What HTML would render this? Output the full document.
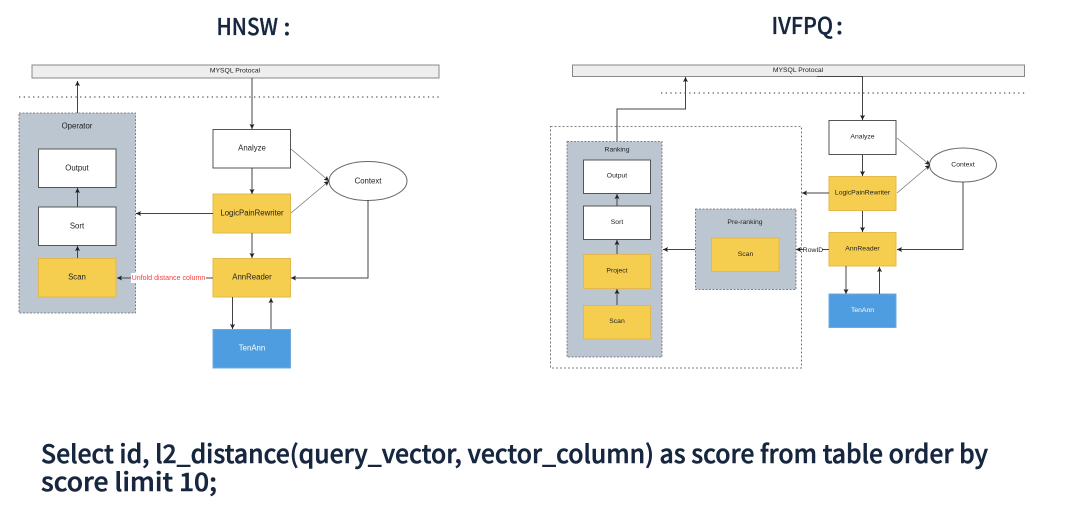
<!DOCTYPE html>
<html><head><meta charset="utf-8"><style>
html,body{margin:0;padding:0;background:#fff;width:1080px;height:508px;overflow:hidden}
svg{display:block}
.d{font-family:"Liberation Sans",sans-serif;font-size:7.800px;fill:#222;text-anchor:middle;dominant-baseline:central}
.s{font-size:6.800px}
.h{font-family:"Noto Sans CJK SC","Liberation Sans",sans-serif;font-weight:500;fill:#16263f;stroke:#16263f}
.w{fill:#fff;stroke:#555;stroke-width:1}
.y{fill:#f6ce4f;stroke:#e3b84c;stroke-width:1}
.b{fill:#4d9de0;stroke:#6fa9dc;stroke-width:1}
.g{fill:#bcc6d0;stroke:#667;stroke-width:.8;stroke-dasharray:2 1.500}
.l{fill:none;stroke:#444;stroke-width:1}
.t{fill:none;stroke:#777;stroke-width:.8}
</style></head><body>
<svg width="1080" height="508" viewBox="0 0 1080 508" xmlns="http://www.w3.org/2000/svg">
<defs><marker id="a" markerWidth="6" markerHeight="6" refX="5" refY="2.500" orient="auto" markerUnits="userSpaceOnUse"><path d="M0 0L5 2.500L0 5L1 2.500z" fill="#222"/></marker></defs>

<text class="h" x="216.500" y="35" font-size="23" stroke-width=".35" textLength="61.500" lengthAdjust="spacingAndGlyphs">HNSW</text>
<text class="h" x="283.500" y="35" font-size="23" stroke-width=".35">:</text>
<text class="h" x="771.500" y="34" font-size="23" stroke-width=".35" textLength="61.500" lengthAdjust="spacingAndGlyphs">IVFPQ</text>
<text class="h" x="836" y="34" font-size="23" stroke-width=".35">:</text>

<!-- HNSW -->
<rect x="32" y="65" width="407" height="13" fill="#eee" stroke="#888"/>
<text class="d s" x="235" y="71">MYSQL Protocal</text>
<line x1="19" y1="97" x2="440" y2="97" stroke="#555" stroke-width="1.200" stroke-dasharray="1.300 3.400"/>
<rect class="g" x="19" y="113" width="116.500" height="200"/>
<text class="d" x="77" y="126">Operator</text>
<rect class="w" x="38.500" y="149" width="77.500" height="38.500"/><text class="d" x="77" y="168">Output</text>
<rect class="w" x="38.500" y="207" width="77.500" height="38.500"/><text class="d" x="77" y="226">Sort</text>
<rect class="y" x="38.500" y="258.500" width="77.500" height="38.500"/><text class="d" x="77" y="277">Scan</text>
<rect class="w" x="213" y="129.500" width="77.500" height="38.500"/><text class="d" x="252" y="148">Analyze</text>
<rect class="y" x="213" y="194" width="77.500" height="39"/><text class="d" x="252" y="213">LogicPainRewriter</text>
<rect class="y" x="213" y="258.500" width="77.500" height="38.500"/><text class="d" x="252" y="277">AnnReader</text>
<rect class="b" x="213" y="329.500" width="77.500" height="38.500"/><text class="d" x="252" y="348" style="fill:#fff">TenAnn</text>
<ellipse cx="368" cy="181" rx="39" ry="19.500" fill="#fff" stroke="#666"/>
<text class="d" x="368" y="181">Context</text>

<path class="l" d="M77.500 113V81" marker-end="url(#a)"/>
<path class="l" d="M77.500 207V188" marker-end="url(#a)"/>
<path class="l" d="M77.500 258V246" marker-end="url(#a)"/>
<path class="l" d="M252 78V129" marker-end="url(#a)"/>
<path class="l" d="M252 168V194" marker-end="url(#a)"/>
<path class="l" d="M252 233V258" marker-end="url(#a)"/>
<path class="l" d="M213 213.500H136" marker-end="url(#a)"/>
<path class="t" d="M291 149L329 181" marker-end="url(#a)"/>
<path class="t" d="M291 213L329 181" marker-end="url(#a)"/>
<path class="l" d="M368 200V278H291" marker-end="url(#a)"/>
<path class="l" d="M213 278H117" marker-end="url(#a)"/>
<rect x="131" y="273" width="75" height="10" fill="#fff"/>
<text class="d" x="168.500" y="278" style="fill:#f5403f;font-size:7.100px">Unfold distance column</text>
<path class="l" d="M232.500 297V329" marker-end="url(#a)"/>
<path class="l" d="M271 329V298" marker-end="url(#a)"/>

<!-- IVFPQ -->
<rect x="572.500" y="65" width="452" height="11.500" fill="#eee" stroke="#888"/>
<text class="d s" x="798" y="70.500">MYSQL Protocal</text>
<line x1="661" y1="93" x2="1025" y2="93" stroke="#555" stroke-width="1.200" stroke-dasharray="1.300 3.400"/>
<rect x="550.500" y="126.500" width="251" height="241.500" fill="none" stroke="#555" stroke-width=".8" stroke-dasharray="2 2"/>
<rect class="g" x="567" y="141.500" width="95" height="215.500"/>
<text class="d s" x="617" y="150">Ranking</text>
<rect class="w" x="583.500" y="160" width="67" height="33.500"/><text class="d s" x="617" y="176">Output</text>
<rect class="w" x="583.500" y="206" width="67" height="33.500"/><text class="d s" x="617" y="222.500">Sort</text>
<rect class="y" x="583.500" y="254.500" width="67" height="34"/><text class="d s" x="617" y="271">Project</text>
<rect class="y" x="583.500" y="305.500" width="67" height="33.500"/><text class="d s" x="617" y="321.500">Scan</text>
<rect class="g" x="695.500" y="209" width="100.500" height="80.500"/>
<text class="d s" x="745" y="222.500">Pre-ranking</text>
<rect class="y" x="711.500" y="238" width="67.500" height="33.500"/><text class="d s" x="745.500" y="254.500">Scan</text>
<rect class="w" x="829" y="120.500" width="67" height="34"/><text class="d s" x="862.500" y="137">Analyze</text>
<rect class="y" x="829" y="176.500" width="67" height="34"/><text class="d s" x="862.500" y="193">LogicPainRewriter</text>
<rect class="y" x="829" y="232.500" width="67" height="33.500"/><text class="d s" x="862.500" y="249">AnnReader</text>
<rect class="b" x="829" y="294" width="67" height="33.500"/><text class="d s" x="862.500" y="310.500" style="fill:#fff">TenAnn</text>
<ellipse cx="963" cy="165" rx="33.500" ry="17" fill="#fff" stroke="#666"/>
<text class="d s" x="963" y="165">Context</text>

<path class="l" d="M617 141V109H685.500V77" marker-end="url(#a)"/>
<path class="l" d="M617 206V194" marker-end="url(#a)"/>
<path class="l" d="M617 254V240" marker-end="url(#a)"/>
<path class="l" d="M617 305V289" marker-end="url(#a)"/>
<path class="l" d="M817 76.500H862.500V120" marker-end="url(#a)"/>
<path class="l" d="M862.500 155V176" marker-end="url(#a)"/>
<path class="l" d="M862.500 211V232" marker-end="url(#a)"/>
<path class="l" d="M829 193H802" marker-end="url(#a)"/>
<path class="t" d="M897 138L930 165" marker-end="url(#a)"/>
<path class="t" d="M897 193L930 165" marker-end="url(#a)"/>
<path class="l" d="M963 182V249.500H897" marker-end="url(#a)"/>
<path class="l" d="M829 249.500H796" marker-end="url(#a)"/>
<rect x="804" y="245" width="18" height="10" fill="#fff"/>
<text class="d s" x="813" y="250.500">RowID</text>
<path class="l" d="M695 249.500H663" marker-end="url(#a)"/>
<path class="l" d="M846 266V294" marker-end="url(#a)"/>
<path class="l" d="M879.500 294V267" marker-end="url(#a)"/>

<text class="h" x="41" y="463" font-size="25" stroke-width=".5" textLength="947" lengthAdjust="spacingAndGlyphs">Select id, l2_distance(query_vector, vector_column) as score from table order by</text>
<text class="h" x="41" y="491" font-size="25" stroke-width=".5" textLength="176" lengthAdjust="spacingAndGlyphs">score limit 10;</text>
</svg>
</body></html>
